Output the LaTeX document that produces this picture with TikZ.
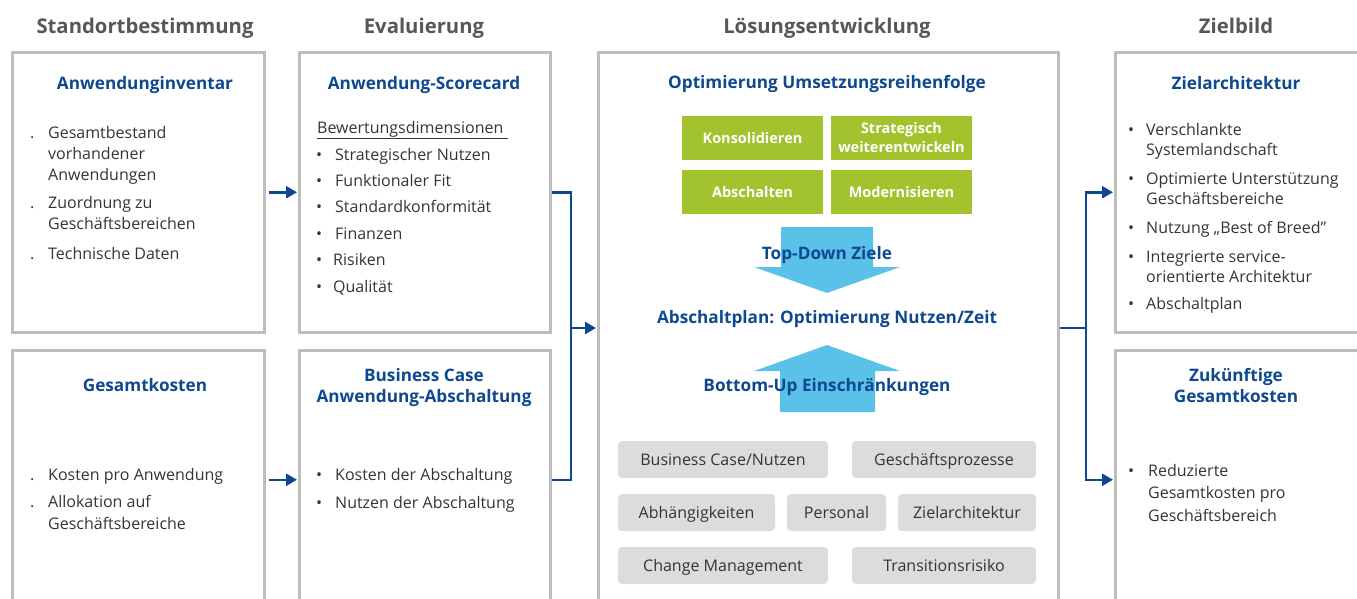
\documentclass[tikz,border=0pt]{standalone}
\usepackage{fontspec}
\setmainfont{Open Sans}
\usetikzlibrary{arrows.meta}
\definecolor{tblue}{RGB}{14,72,142}
\definecolor{hgray}{RGB}{87,87,87}
\definecolor{bgray}{RGB}{190,190,190}
\definecolor{tgreen}{RGB}{163,195,46}
\definecolor{lblue}{RGB}{90,193,232}
\definecolor{cgray}{RGB}{220,220,220}
\definecolor{txt}{RGB}{52,52,52}
\tikzset{
 hdr/.style={font=\bfseries\fontsize{20.3}{24}\selectfont, text=hgray, anchor=base, inner sep=0},
 panel/.style={draw=bgray, line width=2.5pt, anchor=north west, inner sep=0},
 ttl/.style={font=\bfseries\fontsize{17.2}{21}\selectfont, text=tblue, anchor=base, align=center, inner sep=0},
 itm/.style={font=\fontsize{16}{21}\selectfont, text=txt, anchor=base west, align=left, inner sep=0},
 bul/.style={font=\fontsize{16}{21}\selectfont, text=txt, anchor=base west, inner sep=0},
 gbox/.style={fill=tgreen, text=white, font=\bfseries\fontsize{14.5}{19}\selectfont, minimum width=141pt, minimum height=44pt, inner sep=0, align=center},
 gone/.style={text height=11pt, text depth=0pt},
 cbox/.style={fill=cgray, rounded corners=4pt, text=txt, font=\fontsize{16}{20}\selectfont, minimum height=37pt, inner sep=0, text height=11.5pt, text depth=0pt},
 conn/.style={draw=tblue, line width=2.5pt},
 tip/.style={-{Triangle[length=11pt,width=12pt]}},
 bigarrow/.style={fill=lblue},
}
\begin{document}
\begin{tikzpicture}[x=1pt,y=-1pt]
\useasboundingbox (0,0) rectangle (1357,598);
\clip (0,0) rectangle (1357,598);

% headers
\node[hdr] (h1) at (145,33) {Standortbestimmung};
\node[hdr] (h2) at (424,33) {Evaluierung};
\node[hdr] (h3) at (827,33) {Lösungsentwicklung};
\node[hdr] (h4) at (1236,33) {Zielbild};

% panels
\node[panel, minimum width=252pt, minimum height=280pt] (b1) at (11,51) {};
\node[panel, minimum width=251pt, minimum height=280pt] (b2) at (298,51) {};
\node[panel, minimum width=252pt, minimum height=259pt] (b3) at (11,349) {};
\node[panel, minimum width=251pt, minimum height=259pt] (b4) at (298,349) {};
\node[panel, minimum width=460pt, minimum height=560pt] (mid) at (597,51) {};
\node[panel, minimum width=248pt, minimum height=280pt] (r1) at (1114,51) {};
\node[panel, minimum width=248pt, minimum height=259pt] (r2) at (1114,349) {};

% box 1 (multi-line nodes are placed by the baseline of their last line)
\node[ttl] (t1) at (145,89) {Anwendunginventar};
\node[bul] (d1a) at (30,138) {.};
\node[itm] (i1a) at (48,180) {Gesamtbestand\\vorhandener\\Anwendungen};
\node[bul] (d1b) at (30,208) {.};
\node[itm] (i1b) at (48,229) {Zuordnung zu\\Geschäftsbereichen};
\node[bul] (d1c) at (30,259) {.};
\node[itm] (i1c) at (48,259) {Technische Daten};

% box 2
\node[ttl] (t2) at (424,89) {Anwendung-Scorecard};
\node[itm] (u2) at (317,133) {\underline{Bewertungsdimensionen\ }};
\node[bul] (d2a) at (316,160) {•};
\node[itm] (i2a) at (335,160) {Strategischer Nutzen};
\node[bul] (d2b) at (316,186.4) {•};
\node[itm] (i2b) at (335,186.4) {Funktionaler Fit};
\node[bul] (d2c) at (316,212.8) {•};
\node[itm] (i2c) at (335,212.8) {Standardkonformität};
\node[bul] (d2d) at (316,239.2) {•};
\node[itm] (i2d) at (335,239.2) {Finanzen};
\node[bul] (d2e) at (316,265.6) {•};
\node[itm] (i2e) at (333,265.6) {Risiken};
\node[bul] (d2f) at (316,292) {•};
\node[itm] (i2f) at (333,292) {Qualität};

% box 3
\node[ttl] (t3) at (145,391) {Gesamtkosten};
\node[bul] (d3a) at (30,480) {.};
\node[itm] (i3a) at (48,480) {Kosten pro Anwendung};
\node[bul] (d3b) at (30,507) {.};
\node[itm, font=\fontsize{16}{22}\selectfont] (i3b) at (48,529) {Allokation auf\\Geschäftsbereiche};

% box 4
\node[ttl] (t4) at (424,402) {Business Case\\Anwendung-Abschaltung};
\node[bul] (d4a) at (316,480) {•};
\node[itm] (i4a) at (335,480) {Kosten der Abschaltung};
\node[bul] (d4b) at (316,508) {•};
\node[itm] (i4b) at (335,508) {Nutzen der Abschaltung};

% middle
\node[ttl] (tm) at (827,88) {Optimierung Umsetzungsreihenfolge};
\node[gbox, gone] (g1) at (752.5,137.5) {Konsolidieren};
\node[gbox] (g2) at (901.5,137.5) {Strategisch\\weiterentwickeln};
\node[gbox, gone] (g3) at (752.5,191.5) {Abschalten};
\node[gbox, gone] (g4) at (901.5,191.5) {Modernisieren};

\fill[bigarrow] (781,227) -- (873,227) -- (873,267) -- (900,267) -- (827,293) -- (754,267) -- (781,267) -- cycle;
\fill[bigarrow] (780,412) -- (875,412) -- (875,371) -- (900,371) -- (827,345) -- (754,371) -- (780,371) -- cycle;
\node[ttl] (ttd) at (827,259) {Top-Down Ziele};
\node[ttl] (tap) at (827,323) {Abschaltplan: Optimierung Nutzen/Zeit};
\node[ttl] (tbu) at (827,391) {Bottom-Up Einschränkungen};

\node[cbox, minimum width=210pt] (c1) at (723,459.5) {Business Case/Nutzen};
\node[cbox, minimum width=184pt] (c2) at (944,459.5) {Geschäftsprozesse};
\node[cbox, minimum width=157pt] (c3) at (696.5,512.5) {Abhängigkeiten};
\node[cbox, minimum width=99pt] (c4) at (836.5,512.5) {Personal};
\node[cbox, minimum width=138pt] (c5) at (967,512.5) {Zielarchitektur};
\node[cbox, minimum width=210pt] (c6) at (723,565.5) {Change Management};
\node[cbox, minimum width=184pt] (c7) at (944,565.5) {Transitionsrisiko};

% right top
\node[ttl] (t5) at (1236,89) {Zielarchitektur};
\node[itm, font=\fontsize{16}{20}\selectfont] (i5a) at (1146,155) {Verschlankte\\Systemlandschaft};
\node[itm, font=\fontsize{16}{20}\selectfont] (i5b) at (1146,204) {Optimierte Unterstützung\\Geschäftsbereiche};
\node[itm] (i5c) at (1146,233) {Nutzung „Best of Breed”};
\node[itm, font=\fontsize{16}{20}\selectfont] (i5d) at (1146,282) {Integrierte service-\\orientierte Architektur};
\node[itm] (i5e) at (1146,309) {Abschaltplan};
\node[bul] (d5a) at (1128,135) {•};
\node[bul] (d5b) at (1128,184) {•};
\node[bul] (d5c) at (1128,233) {•};
\node[bul] (d5d) at (1128,262) {•};
\node[bul] (d5e) at (1128,309) {•};

% right bottom
\node[ttl] (t6) at (1236,402) {Zukünftige\\Gesamtkosten};
\node[bul] (d6a) at (1128,476) {•};
\node[itm, font=\fontsize{16}{22.5}\selectfont] (i6a) at (1148,521) {Reduzierte\\Gesamtkosten pro\\Geschäftsbereich};

% connectors
\draw[conn, tip, shorten <=3pt, shorten >=1pt] (b1.east) -- (b2.west);
\draw[conn, tip, shorten <=3pt, shorten >=1pt] (b3.east) -- (b4.west);
\coordinate (jL) at (571,328);
\draw[conn] (b2.east) -| (jL) |- (b4.east);
\draw[conn, tip, shorten >=1pt] (jL) -- (jL -| mid.west);
\coordinate (jR) at (1086,328);
\draw[conn] (jR -| mid.east) -- (jR);
\draw[conn, tip, shorten >=1pt] (jR) |- (r1.west);
\draw[conn, tip, shorten >=1pt] (jR) |- (r2.west);
\end{tikzpicture}
\end{document}
